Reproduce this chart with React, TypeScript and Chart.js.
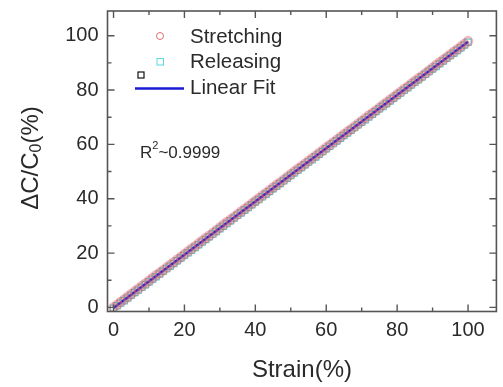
import React, { useEffect, useRef } from "react";
import { Chart, registerables } from "chart.js";

Chart.register(...registerables);

// Strain steps (%) shared by both sweeps
const STRAIN = [
  0, 1, 2, 3, 4, 5, 6, 7, 8, 9, 10, 11, 12, 13, 14, 15, 16, 17, 18, 19, 20,
  21, 22, 23, 24, 25, 26, 27, 28, 29, 30, 31, 32, 33, 34, 35, 36, 37, 38, 39, 40,
  41, 42, 43, 44, 45, 46, 47, 48, 49, 50, 51, 52, 53, 54, 55, 56, 57, 58, 59, 60,
  61, 62, 63, 64, 65, 66, 67, 68, 69, 70, 71, 72, 73, 74, 75, 76, 77, 78, 79, 80,
  81, 82, 83, 84, 85, 86, 87, 88, 89, 90, 91, 92, 93, 94, 95, 96, 97, 98, 99, 100,
];

// ΔC/C0 (%) while stretching
const STRETCHING = [
  0.0, 1.0, 2.0, 2.9, 3.9, 4.9, 5.9, 6.9, 7.9, 8.8, 9.8, 10.8, 11.8, 12.7, 13.7, 14.7, 15.7, 16.6, 17.6, 18.6, 19.6,
  20.6, 21.6, 22.5, 23.5, 24.5, 25.5, 26.4, 27.4, 28.4, 29.4, 30.4, 31.4, 32.3, 33.3, 34.3, 35.3, 36.2, 37.2, 38.2, 39.2,
  40.2, 41.2, 42.1, 43.1, 44.1, 45.1, 46.0, 47.0, 48.0, 49.0, 50.0, 51.0, 51.9, 52.9, 53.9, 54.9, 55.8, 56.8, 57.8, 58.8,
  59.8, 60.8, 61.7, 62.7, 63.7, 64.7, 65.6, 66.6, 67.6, 68.6, 69.6, 70.6, 71.5, 72.5, 73.5, 74.5, 75.4, 76.4, 77.4, 78.4,
  79.4, 80.4, 81.3, 82.3, 83.3, 84.3, 85.2, 86.2, 87.2, 88.2, 89.2, 90.2, 91.1, 92.1, 93.1, 94.1, 95.0, 96.0, 97.0, 98.0,
];

// ΔC/C0 (%) while releasing
const RELEASING = [
  -0.3, 0.6, 1.6, 2.5, 3.5, 4.5, 5.5, 6.4, 7.4, 8.4, 9.4, 10.4, 11.3, 12.3, 13.3, 14.3, 15.2, 16.2, 17.2, 18.2, 19.2,
  20.1, 21.1, 22.1, 23.1, 24.1, 25.0, 26.0, 27.0, 28.0, 29.0, 29.9, 30.9, 31.9, 32.9, 33.9, 34.8, 35.8, 36.8, 37.8, 38.8,
  39.7, 40.7, 41.7, 42.7, 43.7, 44.6, 45.6, 46.6, 47.6, 48.6, 49.5, 50.5, 51.5, 52.5, 53.5, 54.4, 55.4, 56.4, 57.4, 58.4,
  59.3, 60.3, 61.3, 62.3, 63.3, 64.2, 65.2, 66.2, 67.2, 68.2, 69.1, 70.1, 71.1, 72.1, 73.1, 74.0, 75.0, 76.0, 77.0, 78.0,
  78.9, 79.9, 80.9, 81.9, 82.9, 83.8, 84.8, 85.8, 86.8, 87.8, 88.7, 89.7, 90.7, 91.7, 92.7, 93.6, 94.6, 95.6, 96.6, 97.6,
];

// Linear fit end points
const FIT_X = [0, 100];
const FIT_Y = [-0.2, 97.8];

const X_TICKS = [0, 20, 40, 60, 80, 100];
const Y_TICKS = [0, 20, 40, 60, 80, 100];
const MINOR_TICKS = [10, 30, 50, 70, 90];

const X_TITLE = "Strain(%)";
const FIT_R2 = "0.9999";

const FONT = "'Liberation Sans', Arial, sans-serif";
const TEXT = "#2a2a2a";
const AXIS = "#555555";

const framePlugin = {
  id: "frame",
  afterDatasetsDraw(chart: any) {
    const { ctx, chartArea: a, scales } = chart;
    const xs = scales.x;
    const ys = scales.y;
    ctx.save();

    // frame
    ctx.strokeStyle = AXIS;
    ctx.lineWidth = 1.6;
    ctx.strokeRect(a.left, a.top, a.right - a.left, a.bottom - a.top);

    // inward ticks on all four sides
    ctx.lineWidth = 1.4;
    const tick = (v: number, len: number) => {
      const px = xs.getPixelForValue(v);
      const py = ys.getPixelForValue(v);
      ctx.beginPath();
      ctx.moveTo(px, a.bottom);
      ctx.lineTo(px, a.bottom - len);
      ctx.moveTo(px, a.top);
      ctx.lineTo(px, a.top + len);
      ctx.moveTo(a.left, py);
      ctx.lineTo(a.left + len, py);
      ctx.moveTo(a.right, py);
      ctx.lineTo(a.right - len, py);
      ctx.stroke();
    };
    X_TICKS.forEach((v) => tick(v, 7));
    MINOR_TICKS.forEach((v) => tick(v, 4));

    // tick labels
    ctx.fillStyle = TEXT;
    ctx.font = `20px ${FONT}`;
    ctx.textAlign = "center";
    ctx.textBaseline = "middle";
    X_TICKS.forEach((v) => ctx.fillText(String(v), xs.getPixelForValue(v), a.bottom + 19));
    ctx.textAlign = "right";
    Y_TICKS.forEach((v) => ctx.fillText(String(v), a.left - 9, ys.getPixelForValue(v)));

    // x title
    ctx.font = `24px ${FONT}`;
    ctx.textAlign = "center";
    ctx.fillText(X_TITLE, (a.left + a.right) / 2, 370);

    // y title with subscript, rotated
    ctx.save();
    ctx.translate(31, 158);
    ctx.rotate(-Math.PI / 2);
    const big = `24px ${FONT}`;
    const small = `16px ${FONT}`;
    const parts = [
      { t: "\u0394C/C", f: big, dy: 0 },
      { t: "0", f: small, dy: 6 },
      { t: "(%)", f: big, dy: 0 },
    ];
    let total = 0;
    parts.forEach((p) => {
      ctx.font = p.f;
      total += ctx.measureText(p.t).width;
    });
    let x = -total / 2;
    ctx.textAlign = "left";
    parts.forEach((p) => {
      ctx.font = p.f;
      ctx.fillText(p.t, x, p.dy);
      x += ctx.measureText(p.t).width;
    });
    ctx.restore();

    // R² annotation
    ctx.textAlign = "left";
    ctx.font = `17px ${FONT}`;
    let rx = 140;
    ctx.fillText("R", rx, 153);
    rx += ctx.measureText("R").width;
    ctx.font = `11px ${FONT}`;
    ctx.fillText("2", rx, 146);
    rx += ctx.measureText("2").width;
    ctx.font = `17px ${FONT}`;
    ctx.fillText("~" + FIT_R2, rx, 153);

    // legend
    ctx.font = `20.5px ${FONT}`;
    ctx.fillText("Stretching", 190, 37);
    ctx.fillText("Releasing", 190, 62);
    ctx.fillText("Linear Fit", 190, 88);

    ctx.lineWidth = 1;
    ctx.strokeStyle = "rgba(215,90,90,0.85)";
    ctx.beginPath();
    ctx.arc(160, 36, 3.5, 0, Math.PI * 2);
    ctx.stroke();
    ctx.strokeStyle = "rgba(70,215,215,0.9)";
    ctx.strokeRect(157, 58.5, 6.5, 6.5);
    ctx.strokeStyle = "#111111";
    ctx.lineWidth = 1.2;
    ctx.strokeRect(138, 72, 6, 6);
    ctx.strokeStyle = "#1a1ad6";
    ctx.lineWidth = 2.6;
    ctx.beginPath();
    ctx.moveTo(135, 88.5);
    ctx.lineTo(184, 88.5);
    ctx.stroke();

    ctx.restore();
  },
};

export default function App() {
  const ref = useRef<HTMLCanvasElement>(null);

  useEffect(() => {
    if (!ref.current) return;
    const toPts = (xs: number[], ys: number[]) => xs.map((x, i) => ({ x, y: ys[i] }));
    const chart = new Chart(ref.current, {
      type: "scatter",
      data: {
        datasets: [
          {
            label: "Stretching",
            data: toPts(STRAIN, STRETCHING),
            pointStyle: "circle",
            pointRadius: 4,
            borderWidth: 2.6,
            borderColor: "rgba(214,96,104,0.42)",
            backgroundColor: "rgba(0,0,0,0)",
            order: 0,
          },
          {
            type: "line",
            label: "Linear Fit",
            data: toPts(FIT_X, FIT_Y),
            borderColor: "#2a1ad0",
            borderWidth: 2.4,
            pointRadius: 0,
            order: 1,
          },
          {
            label: "Releasing",
            data: toPts(STRAIN, RELEASING),
            pointStyle: "rect",
            pointRadius: 4.5,
            borderWidth: 1.2,
            borderColor: "rgba(70,215,215,0.9)",
            backgroundColor: "rgba(0,0,0,0)",
            order: 2,
          },
        ],
      },
      options: {
        responsive: false,
        animation: false,
        layout: { padding: { left: 107.5, right: 1, top: 11, bottom: 75.5 } },
        plugins: { legend: { display: false }, tooltip: { enabled: false } },
        scales: {
          x: { type: "linear", min: -1.7, max: 108, display: false },
          y: { type: "linear", min: -1.5, max: 109.1, display: false },
        },
      },
      plugins: [framePlugin],
    });
    return () => chart.destroy();
  }, []);

  return (
    <div style={{ position: "fixed", left: 0, top: 0, width: 503, height: 387, background: "#fff" }}>
      <canvas ref={ref} width={503} height={387} />
    </div>
  );
}
